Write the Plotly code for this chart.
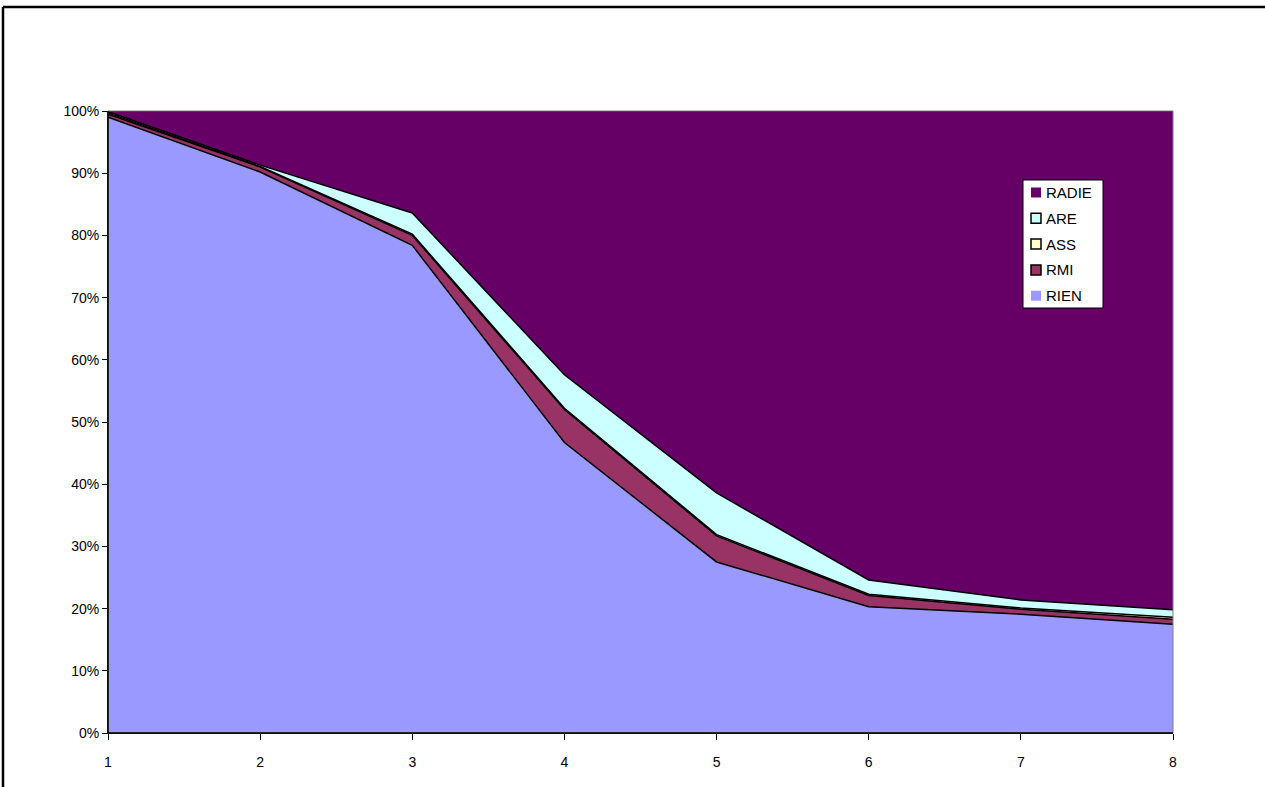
import plotly.graph_objects as go

x_vals = [1, 2, 3, 4, 5, 6, 7, 8]
rien = [99.0, 90.2, 78.4, 46.7, 27.5, 20.3, 19.1, 17.5]
rmi = [0.5, 0.8, 1.6, 5.3, 4.2, 1.8, 0.8, 0.8]
ass = [0.2, 0.1, 0.2, 0.2, 0.2, 0.2, 0.2, 0.3]
are = [0.2, 0.2, 3.4, 5.4, 6.7, 2.3, 1.3, 1.2]
radie = [round(100 - a - b - c - d, 2) for a, b, c, d in zip(rien, rmi, ass, are)]

series_names = ["RIEN", "RMI", "ASS", "ARE", "RADIE"]
series_vals = [rien, rmi, ass, are, radie]
series_colors = ["#9999FF", "#993366", "#FFFFCC", "#CCFFFF", "#660066"]
legend_border = [False, True, True, True, False]

PL, PR, PT, PB = 108, 1173, 111, 733
W, H = 1265, 787


def px(xp):
    return (xp - PL) / (PR - PL)


def py(yp):
    return (PB - yp) / (PB - PT)


fig = go.Figure()
for name, vals, color in zip(series_names, series_vals, series_colors):
    fig.add_trace(go.Scatter(
        x=x_vals, y=vals, name=name, mode="lines", stackgroup="one",
        fillcolor=color, line=dict(color="black", width=1.5),
        showlegend=False,
    ))

shapes = [
    dict(type="rect", xref="paper", yref="paper",
         x0=0, x1=1, y0=0, y1=1, line=dict(color="#808080", width=1),
         fillcolor="rgba(0,0,0,0)", layer="above"),
    dict(type="line", xref="paper", yref="paper",
         x0=0, x1=0, y0=0, y1=1, line=dict(color="black", width=1.5), layer="above"),
    dict(type="line", xref="paper", yref="paper",
         x0=0, x1=1, y0=0, y1=0, line=dict(color="black", width=1.5), layer="above"),
    dict(type="line", xref="paper", yref="paper",
         x0=px(3), x1=px(1300), y0=py(7), y1=py(7),
         line=dict(color="black", width=2.5)),
    dict(type="line", xref="paper", yref="paper",
         x0=px(3), x1=px(3), y0=py(7), y1=py(820),
         line=dict(color="black", width=2.5)),
    # legend box
    dict(type="rect", xref="paper", yref="paper",
         x0=px(1023), x1=px(1103), y0=py(308), y1=py(180),
         line=dict(color="black", width=1), fillcolor="white", layer="above"),
]
annotations = []
legend_order = list(zip(series_names, series_colors, legend_border))[::-1]
for i, (name, color, border) in enumerate(legend_order):
    cy = 192.5 + i * 25.8
    shapes.append(dict(
        type="rect", xref="paper", yref="paper",
        x0=px(1031), x1=px(1041), y0=py(cy + 5), y1=py(cy - 5),
        fillcolor=color, layer="above",
        line=dict(color="black" if border else color, width=1.5 if border else 0),
    ))
    annotations.append(dict(
        xref="paper", yref="paper", x=px(1044), y=py(cy), text=name,
        showarrow=False, xanchor="left", yanchor="middle",
        font=dict(size=15, family="Arial, Liberation Sans, sans-serif", color="black"),
    ))

fig.update_layout(
    width=W, height=H,
    margin=dict(l=PL, r=W - PR, t=PT, b=H - PB),
    paper_bgcolor="white", plot_bgcolor="white",
    font=dict(family="Arial, Liberation Sans, sans-serif", size=14, color="black"),
    showlegend=False,
    xaxis=dict(
        range=[1, 8], tickvals=x_vals, ticktext=[str(v) for v in x_vals],
        showgrid=False, zeroline=False, ticks="outside", ticklen=6, tickwidth=1,
        tickcolor="black", showline=True, linecolor="black", linewidth=1,
        ticklabelstandoff=10, tickfont=dict(color="black", size=14),
    ),
    yaxis=dict(
        range=[0, 100], tickvals=list(range(0, 101, 10)),
        ticktext=[f"{v}%" for v in range(0, 101, 10)],
        showgrid=False, zeroline=False, ticks="outside", ticklen=5,
        tickcolor="black", showline=True, linecolor="black", linewidth=1,
        tickfont=dict(color="black", size=14),
    ),
    shapes=shapes,
    annotations=annotations,
)

fig.write_html("out.html", config={"displayModeBar": False},
               post_script="document.body.style.margin='0';document.body.style.overflow='hidden';")
